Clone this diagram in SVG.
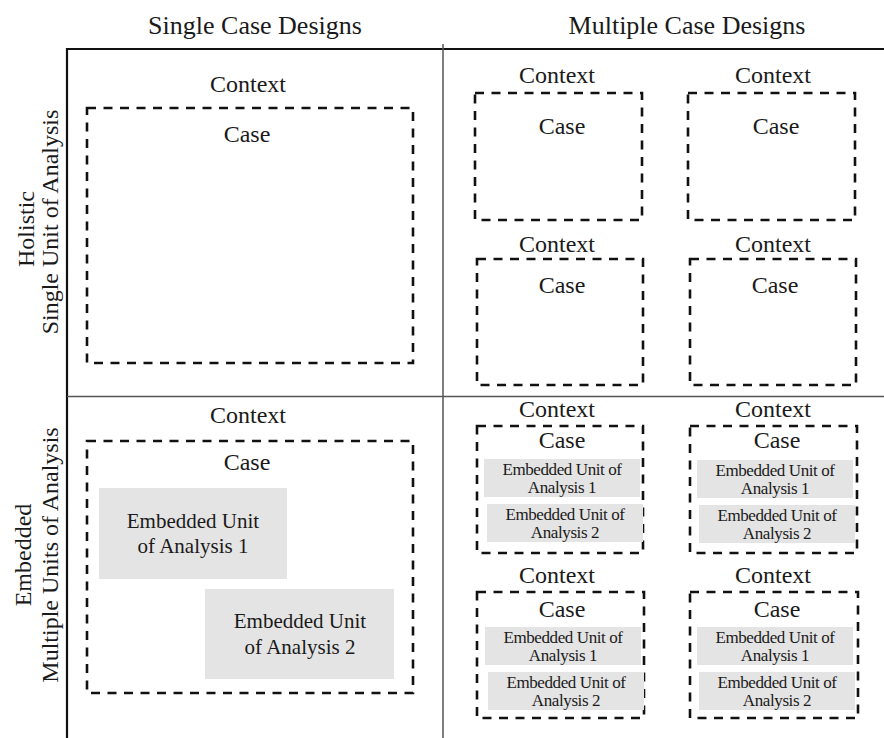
<svg xmlns="http://www.w3.org/2000/svg" width="884" height="738" viewBox="0 0 884 738">
  <style>
    text { font-family: "Liberation Serif", "Times New Roman", serif; fill: #1a1a1a; text-anchor: middle; }
    .hdr { font-size: 26px; }
    .lbl { font-size: 24px; }
    .side { font-size: 24px; }
    .eu { font-size: 21px; }
    .eus { font-size: 17px; letter-spacing: -0.4px; }
    .case { fill: none; stroke: #111; stroke-width: 2.6; stroke-dasharray: 9 7.5; }
    .unit { fill: #e4e4e4; stroke: none; }
    .frame { stroke: #111; stroke-width: 2.2; fill: none; }
    .split { stroke: #555; stroke-width: 1.5; fill: none; }
  </style>

  <rect width="884" height="738" fill="#ffffff"/>

  <!-- table frame -->
  <g id="grid">
    <line class="frame" x1="67" y1="49" x2="884" y2="49"/>
    <line class="frame" x1="67" y1="48" x2="67" y2="738"/>
    <line class="split" x1="443" y1="44" x2="443" y2="738"/>
    <line class="split" x1="67" y1="396.5" x2="884" y2="396.5"/>
  </g>

  <!-- column headings -->
  <g id="headers">
    <text class="hdr" x="255" y="34">Single Case Designs</text>
    <text class="hdr" x="687" y="34">Multiple Case Designs</text>
  </g>

  <!-- row headings -->
  <g id="row-holistic">
    <text class="side" transform="translate(34,229) rotate(-90)">Holistic</text>
    <text class="side" transform="translate(58,222) rotate(-90)">Single  Unit  of  Analysis</text>
  </g>
  <g id="row-embedded">
    <text class="side" transform="translate(31,555) rotate(-90)">Embedded</text>
    <text class="side" transform="translate(58,555) rotate(-90)">Multiple  Units  of  Analysis</text>
  </g>

  <!-- single holistic -->
  <g id="single-holistic">
    <text class="lbl" x="248" y="92">Context</text>
    <rect class="case" x="87" y="108" width="326" height="255"/>
    <text class="lbl" x="247" y="142">Case</text>
  </g>

  <!-- multiple holistic -->
  <g id="multi-holistic-1">
    <text class="lbl" x="557" y="83">Context</text>
    <rect class="case" x="475" y="93" width="167" height="127"/>
    <text class="lbl" x="562" y="134">Case</text>
  </g>
  <g id="multi-holistic-2">
    <text class="lbl" x="773" y="83">Context</text>
    <rect class="case" x="688" y="93" width="167" height="127"/>
    <text class="lbl" x="776" y="134">Case</text>
  </g>
  <g id="multi-holistic-3">
    <text class="lbl" x="557" y="252">Context</text>
    <rect class="case" x="477" y="259" width="166" height="126"/>
    <text class="lbl" x="562" y="293">Case</text>
  </g>
  <g id="multi-holistic-4">
    <text class="lbl" x="773" y="252">Context</text>
    <rect class="case" x="690" y="259" width="166" height="126"/>
    <text class="lbl" x="775" y="293">Case</text>
  </g>

  <!-- single embedded -->
  <g id="single-embedded">
    <text class="lbl" x="248" y="423">Context</text>
    <rect class="case" x="87" y="441" width="326" height="252"/>
    <text class="lbl" x="247" y="470">Case</text>
    <rect class="unit" x="99" y="488" width="188" height="91"/>
    <text class="eu" x="193" y="528">Embedded Unit</text>
    <text class="eu" x="193" y="553">of Analysis 1</text>
    <rect class="unit" x="205" y="589" width="189" height="90"/>
    <text class="eu" x="300" y="628">Embedded Unit</text>
    <text class="eu" x="300" y="654">of Analysis 2</text>
  </g>

  <!-- multiple embedded -->
  <g id="multi-embedded-1">
    <text class="lbl" x="557" y="417">Context</text>
    <rect class="case" x="477" y="426" width="166" height="127"/>
    <text class="lbl" x="562" y="448">Case</text>
    <rect class="unit" x="484" y="459" width="156" height="38"/>
    <text class="eus" x="562" y="475">Embedded Unit of</text>
    <text class="eus" x="562" y="493">Analysis 1</text>
    <rect class="unit" x="487" y="504" width="156" height="38"/>
    <text class="eus" x="565" y="520">Embedded Unit of</text>
    <text class="eus" x="565" y="538">Analysis 2</text>
  </g>
  <g id="multi-embedded-2">
    <text class="lbl" x="773" y="417">Context</text>
    <rect class="case" x="690" y="426" width="167" height="127"/>
    <text class="lbl" x="777" y="448">Case</text>
    <rect class="unit" x="697" y="460" width="156" height="38"/>
    <text class="eus" x="775" y="476">Embedded Unit of</text>
    <text class="eus" x="775" y="494">Analysis 1</text>
    <rect class="unit" x="699" y="505" width="156" height="38"/>
    <text class="eus" x="777" y="521">Embedded Unit of</text>
    <text class="eus" x="777" y="539">Analysis 2</text>
  </g>
  <g id="multi-embedded-3">
    <text class="lbl" x="557" y="583">Context</text>
    <rect class="case" x="477" y="592" width="167" height="126"/>
    <text class="lbl" x="562" y="617">Case</text>
    <rect class="unit" x="485" y="627" width="156" height="38"/>
    <text class="eus" x="563" y="643">Embedded Unit of</text>
    <text class="eus" x="563" y="661">Analysis 1</text>
    <rect class="unit" x="488" y="672" width="156" height="38"/>
    <text class="eus" x="566" y="688">Embedded Unit of</text>
    <text class="eus" x="566" y="706">Analysis 2</text>
  </g>
  <g id="multi-embedded-4">
    <text class="lbl" x="773" y="583">Context</text>
    <rect class="case" x="690" y="592" width="168" height="126"/>
    <text class="lbl" x="777" y="617">Case</text>
    <rect class="unit" x="697" y="627" width="156" height="38"/>
    <text class="eus" x="775" y="643">Embedded Unit of</text>
    <text class="eus" x="775" y="661">Analysis 1</text>
    <rect class="unit" x="699" y="672" width="156" height="38"/>
    <text class="eus" x="777" y="688">Embedded Unit of</text>
    <text class="eus" x="777" y="706">Analysis 2</text>
  </g>
</svg>
